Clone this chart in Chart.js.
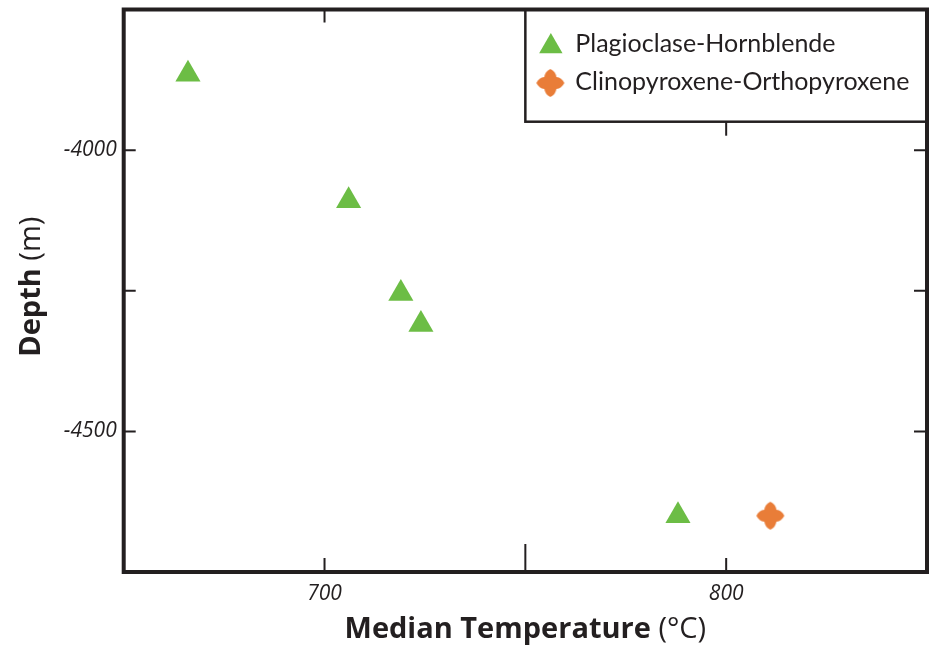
<!DOCTYPE html>
<html>
<head>
<meta charset="utf-8">
<title>Median Temperature vs Depth</title>
<script src="https://cdn.jsdelivr.net/npm/chart.js@4.4.1/dist/chart.umd.min.js"></script>
<style>
    html, body { margin: 0; padding: 0; background: #fff; }
    #wrap { width: 929px; height: 647px; }
</style>
</head>
<body>
<div id="wrap"><canvas id="chart" width="929" height="647"></canvas></div>
<script>
// data
const seriesNames = ['Plagioclase-Hornblende', 'Clinopyroxene-Orthopyroxene'];
const plagTemp = [666, 706, 719, 724, 788];
const plagDepth = [-3865, -4090, -4255, -4310, -4650];
const cpxTemp = [811];
const cpxDepth = [-4650];

// axes
const xRange = [650, 850];
const yRange = [-4750, -3750];
const xTicks = [700, 750, 800];
const xTickLabels = ['700', '', '800'];
const yTicks = [-4000, -4250, -4500];
const yTickLabels = ['-4000', '', '-4500'];
const xTitle = ['Median Temperature', ' (°C)'];
const yTitle = ['Depth', ' (m)'];

const ink = '#231f20';
const green = '#6cbd45';
const orange = '#e97d38';
const LEGEND_FONT = 'Lato, "Open Sans", sans-serif';
const AXIS_FONT = '"Open Sans", Lato, sans-serif';

// orange four-lobed marker
function makeLobedMarker(color) {
    const c = document.createElement('canvas');
    c.width = 30;
    c.height = 30;
    const g = c.getContext('2d');
    g.translate(15, 15);
    g.fillStyle = color;
    const ro = 14, ri = 8.5, rc = 12.5;
    const p = (ang, r) => [Math.cos(ang) * r, Math.sin(ang) * r];
    g.beginPath();
    for (let k = 0; k < 4; k++) {
        const a = k * Math.PI / 2 - Math.PI / 2;
        const i0 = p(a - Math.PI / 4, ri);
        const c0 = p(a - 0.45, rc);
        const t = p(a, ro);
        const c1 = p(a + 0.45, rc);
        const i1 = p(a + Math.PI / 4, ri);
        if (k === 0) g.moveTo(i0[0], i0[1]);
        g.quadraticCurveTo(c0[0], c0[1], t[0], t[1]);
        g.quadraticCurveTo(c1[0], c1[1], i1[0], i1[1]);
    }
    g.closePath();
    g.fill();
    return c;
}

function drawTriangle(ctx, x, y, r, color) {
    ctx.fillStyle = color;
    ctx.beginPath();
    for (let k = 0; k < 3; k++) {
        const a = k * 2 * Math.PI / 3;
        const px = x + Math.sin(a) * r, py = y - Math.cos(a) * r;
        if (k === 0) ctx.moveTo(px, py); else ctx.lineTo(px, py);
    }
    ctx.closePath();
    ctx.fill();
}

// text made of a bold part and a regular part, centred on cx
function drawMixedTitle(ctx, parts, cx, baseline, size) {
    const fonts = ['700 ' + size + 'px ' + AXIS_FONT, '400 ' + size + 'px ' + AXIS_FONT];
    let total = 0;
    const widths = parts.map((s, i) => {
        ctx.font = fonts[i];
        const w = ctx.measureText(s).width;
        total += w;
        return w;
    });
    let x = cx - total / 2;
    ctx.fillStyle = ink;
    ctx.textAlign = 'left';
    ctx.textBaseline = 'alphabetic';
    parts.forEach((s, i) => {
        ctx.font = fonts[i];
        ctx.fillText(s, x, baseline);
        x += widths[i];
    });
}

const lobed = makeLobedMarker(orange);

// frame, inward ticks, legend box and axis titles
const framePlugin = {
    id: 'frame',
    afterDraw(chart) {
        const ctx = chart.ctx;
        const area = chart.chartArea;
        const xs = chart.scales.x;
        const ys = chart.scales.y;
        ctx.save();

        ctx.strokeStyle = ink;
        ctx.lineWidth = 2;
        ctx.beginPath();
        xTicks.forEach((v, i) => {
            const px = xs.getPixelForValue(v);
            const len = xTickLabels[i] ? 14 : 28;
            ctx.moveTo(px, area.bottom);
            ctx.lineTo(px, area.bottom - len);
        });
        // top: only 700 shows above the legend
        const p700 = xs.getPixelForValue(700);
        ctx.moveTo(p700, area.top);
        ctx.lineTo(p700, area.top + 13);
        yTicks.forEach(v => {
            const py = ys.getPixelForValue(v);
            ctx.moveTo(area.left, py);
            ctx.lineTo(area.left + 12, py);
            ctx.moveTo(area.right, py);
            ctx.lineTo(area.right - 13, py);
        });
        ctx.stroke();

        // legend box
        const lx = xs.getPixelForValue(750);
        const ly = area.top;
        const lb = 121.7;
        ctx.fillStyle = '#fff';
        ctx.fillRect(lx, ly, area.right - lx, lb - ly);
        ctx.lineWidth = 2.5;
        ctx.strokeRect(lx, ly, area.right - lx, lb - ly);
        // 800 tick hangs under the legend
        const p800 = xs.getPixelForValue(800);
        ctx.lineWidth = 2;
        ctx.beginPath();
        ctx.moveTo(p800, lb);
        ctx.lineTo(p800, lb + 14);
        ctx.stroke();

        drawTriangle(ctx, lx + 25.5, 46.5, 13.5, green);
        ctx.drawImage(lobed, lx + 25 - 15, 83 - 15);
        ctx.fillStyle = ink;
        ctx.font = '400 25px ' + LEGEND_FONT;
        ctx.textAlign = 'left';
        ctx.textBaseline = 'alphabetic';
        ctx.fillText(chart.data.datasets[0].label, lx + 50, 52);
        ctx.fillText(chart.data.datasets[1].label, lx + 50, 90);

        // plot frame
        ctx.lineWidth = 4;
        ctx.strokeRect(area.left, area.top, area.right - area.left, area.bottom - area.top);

        // axis titles
        drawMixedTitle(ctx, xTitle, (area.left + area.right) / 2, 638, 29);
        ctx.translate(40, (area.top + area.bottom) / 2 - 4);
        ctx.rotate(-Math.PI / 2);
        drawMixedTitle(ctx, yTitle, 0, 0, 29);

        ctx.restore();
    }
};

function buildChart() {
    const ctx = document.getElementById('chart').getContext('2d');
    new Chart(ctx, {
        type: 'scatter',
        data: {
            datasets: [{
                label: seriesNames[0],
                data: plagTemp.map((t, i) => ({ x: t, y: plagDepth[i] })),
                pointStyle: 'triangle',
                pointRadius: 14.5,
                backgroundColor: green,
                borderWidth: 0
            }, {
                label: seriesNames[1],
                data: cpxTemp.map((t, i) => ({ x: t, y: cpxDepth[i] })),
                pointStyle: lobed,
                pointRadius: 14,
                backgroundColor: orange,
                borderWidth: 0
            }]
        },
        options: {
            responsive: false,
            devicePixelRatio: 1,
            animation: false,
            events: [],
            clip: false,
            layout: {
                autoPadding: false,
                padding: { top: 9.5, right: 2, left: 0, bottom: 0 }
            },
            plugins: {
                legend: { display: false },
                tooltip: { enabled: false }
            },
            scales: {
                x: {
                    type: 'linear',
                    min: xRange[0],
                    max: xRange[1],
                    afterBuildTicks: s => { s.ticks = xTicks.map(v => ({ value: v })); },
                    afterFit: s => {
                        s.height = 75;
                        s.paddingLeft = 0;
                        s.paddingRight = 0;
                    },
                    grid: { display: false, drawTicks: false },
                    border: { display: false },
                    ticks: {
                        autoSkip: false,
                        maxRotation: 0,
                        padding: 9,
                        color: ink,
                        font: { family: AXIS_FONT, style: 'italic', size: 21 },
                        callback: v => xTickLabels[xTicks.indexOf(v)] || ''
                    }
                },
                y: {
                    type: 'linear',
                    min: yRange[0],
                    max: yRange[1],
                    afterBuildTicks: s => { s.ticks = yTicks.map(v => ({ value: v })); },
                    afterFit: s => {
                        s.width = 123.7;
                        s.paddingTop = 0;
                        s.paddingBottom = 0;
                    },
                    grid: { display: false, drawTicks: false },
                    border: { display: false },
                    ticks: {
                        autoSkip: false,
                        padding: 7,
                        color: ink,
                        font: { family: AXIS_FONT, style: 'italic', size: 21 },
                        callback: v => yTickLabels[yTicks.indexOf(v)] || ''
                    }
                }
            }
        },
        plugins: [framePlugin]
    });
}

Promise.all([
    document.fonts.load('italic 21px "Open Sans"'),
    document.fonts.load('700 29px "Open Sans"'),
    document.fonts.load('400 29px "Open Sans"'),
    document.fonts.load('400 25px Lato')
]).then(buildChart, buildChart);
</script>
</body>
</html>
